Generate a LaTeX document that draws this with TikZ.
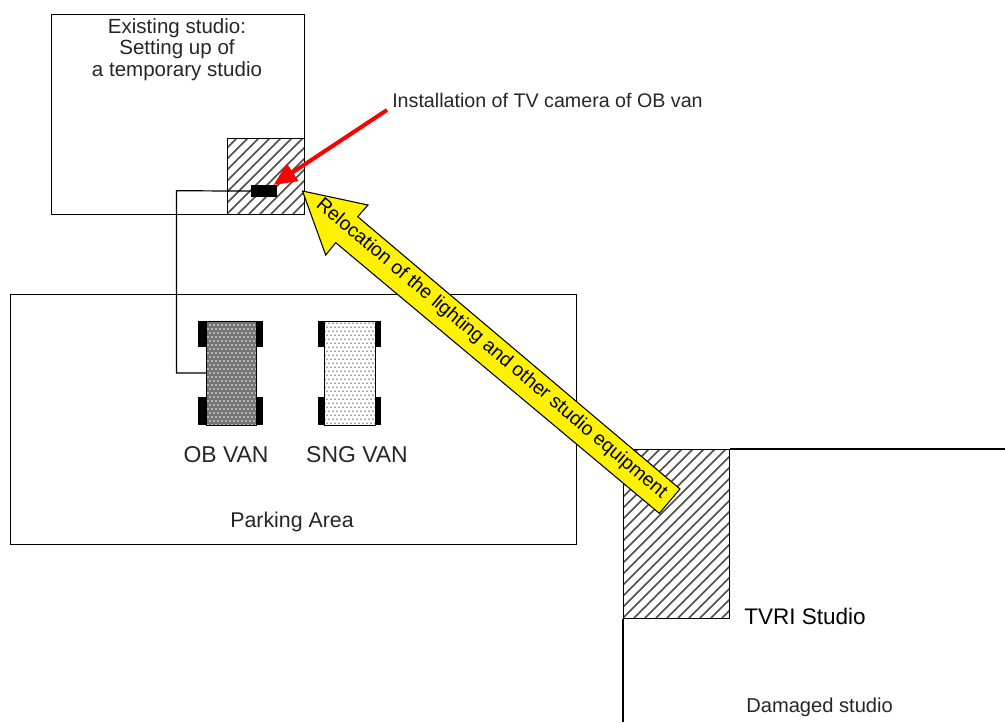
\documentclass[tikz,border=0pt]{standalone}
\usepackage{fontspec}
\setmainfont{Liberation Sans}
\usetikzlibrary{arrows.meta}
\tikzset{
  box/.style={draw=black,line width=0.9pt,fill=none},
  lbl/.style={inner sep=0pt,text=black!85},
  wheel/.style={fill=black,draw=none},
  hatchline/.style={draw=black!70,line width=1.1pt},
  wire/.style={draw=black,line width=0.9pt},
}
% hatch: #1,#2 = corner coords in px
\newcommand{\hatchbox}[4]{%
  \begin{scope}
    \clip (#1,#2) rectangle (#3,#4);
    \foreach \k in {-40,...,60}{
      \draw[hatchline] ({#1+\k*11},#4) -- ++({#4-#2+2},{-(#4-#2+2)});
    }
  \end{scope}}
\begin{document}
\begin{tikzpicture}[x=0.75pt,y=-0.75pt]
\useasboundingbox (0,0) rectangle (1005,722);
% studio hatch areas
\hatchbox{227}{138}{304}{214}
\hatchbox{623}{449}{729}{618}
% Existing studio
\node[box,minimum width=189.75pt,minimum height=150pt,inner sep=0pt,anchor=north west] (existing) at (51,14) {};
\node[box,minimum width=57.75pt,minimum height=57pt,inner sep=0pt,anchor=north west] (hatchA) at (227,138) {};
\node[lbl,align=center,font=\fontsize{15.4}{16}\selectfont] (existingtxt) at (177,49.5) {Existing studio:\\Setting up of\\a temporary studio};
% Parking
\node[box,minimum width=424.5pt,minimum height=187.2pt,inner sep=0pt,anchor=north west] (parking) at (9.7,294) {};
\node[lbl,font=\fontsize{16}{18}\selectfont] (parktxt) at (292,521.5) {Parking Area};
% OB van
\fill[wheel] (198,321) rectangle (263,347);
\fill[wheel] (198,397) rectangle (263,425);
\fill[black!55] (206,321) rectangle (256,425);
\begin{scope}
  \clip (206,321) rectangle (256,425);
  \foreach \i in {0,...,13}{\foreach \j in {0,...,27}{
    \fill[white] ({204+\i*4+mod(\j,2)*2},{321+\j*4}) circle (0.9);
  }}
\end{scope}
\node[draw=black,line width=0.6pt,minimum width=37.5pt,minimum height=78pt,inner sep=0pt,anchor=north west] (obvan) at (206,321) {};
% SNG van
\fill[wheel] (318,321) rectangle (381,347);
\fill[wheel] (318,397) rectangle (381,425);
\fill[white] (324,321) rectangle (375,425);
\begin{scope}
  \clip (324,321) rectangle (375,425);
  \foreach \i in {0,...,13}{\foreach \j in {0,...,27}{
    \fill[black!75] ({325+\i*4+mod(\j,2)*2},{323+\j*4}) circle (0.75);
  }}
\end{scope}
\node[draw=black,line width=0.6pt,minimum width=38.25pt,minimum height=78pt,inner sep=0pt,anchor=north west] (sngvan) at (324,321) {};
\node[lbl,font=\fontsize{17.2}{18}\selectfont] (obtxt) at (226,454.5) {OB VAN};
\node[lbl,font=\fontsize{17.2}{18}\selectfont] (sngtxt) at (357,454.5) {SNG VAN};
% camera and cable
\node[fill=black,minimum width=19.5pt,minimum height=9.5pt,inner sep=0pt,anchor=north west] (camera) at (250.5,184.5) {};
\coordinate (cablebend) at (176.5,190.7);
\coordinate (cablebendb) at (176.5,373);
\coordinate (vanport) at (206,373);
\draw[wire] (camera.west) -- (cablebend) -- (cablebendb) -- (vanport);
% Damaged studio
\node[box,minimum width=79.5pt,minimum height=126.75pt,inner sep=0pt,anchor=north west] (hatchB) at (623,449) {};
\coordinate (roofend) at (1005,449);
\coordinate (wallend) at (623,722);
\draw[wire] (hatchB.north east) -- (roofend);
\draw[wire] (hatchB.south west) -- (wallend);
\node[lbl,anchor=west,text=black,font=\fontsize{16.9}{18}\selectfont] (tvri) at (744,616) {TVRI Studio};
\node[lbl,anchor=west,font=\fontsize{15.1}{18}\selectfont] (damaged) at (746,707) {Damaged studio};
% yellow arrow
\coordinate (ytip) at (302.5,191);
\coordinate (yh1) at (368,205);
\coordinate (ys1) at (357.7,216.7);
\coordinate (yt1) at (680,489);
\coordinate (yt2) at (659.3,513.3);
\coordinate (ys2) at (335.7,242.7);
\coordinate (yh2) at (325.7,255);
\draw[draw=black,line width=0.8pt,fill=yellow,line join=miter] (ytip) -- (yh1) -- (ys1) -- (yt1) -- (yt2) -- (ys2) -- (yh2) -- cycle;
\node[inner sep=0pt,rotate=-40.2,font=\fontsize{14.55}{16}\selectfont] (reloc) at (491.5,349) {Relocation of the lighting and other studio equipment};
% red arrow
\node[lbl,anchor=west,font=\fontsize{14.75}{18}\selectfont] (install) at (392,100.5) {Installation of TV camera of OB van};
\coordinate (redstart) at (387,110);
\coordinate (redtip) at (273.5,185);
\draw[-{Triangle[length=23*0.75pt,width=20*0.75pt]},red,line width=3pt] (redstart) -- (redtip);
\end{tikzpicture}
\end{document}
